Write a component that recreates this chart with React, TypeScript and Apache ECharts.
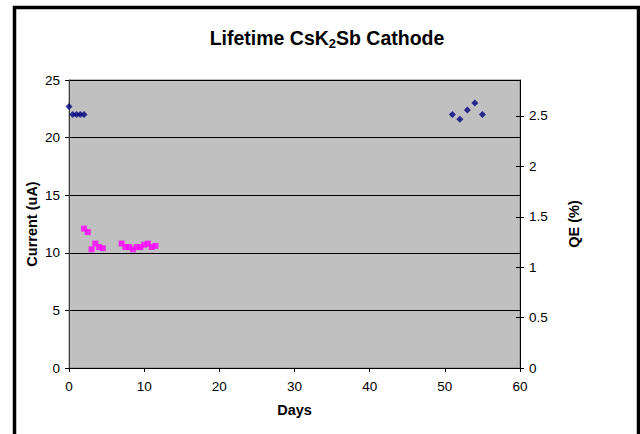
import React, { useEffect, useRef } from "react";
import * as echarts from "echarts";

const currentDays = [0, 0.5, 1, 1.5, 2, 51, 52, 53, 54, 55];
const currentValues = [22.7, 22, 22, 22, 22, 22, 21.6, 22.4, 23, 22];
const qeDays = [2, 2.5, 3, 3.5, 4, 4.5, 7, 7.5, 8, 8.5, 9, 9.5, 10, 10.5, 11, 11.5];
const qeValues = [12.1, 11.8, 10.3, 10.8, 10.5, 10.4, 10.8, 10.5, 10.5, 10.3, 10.5, 10.5, 10.7, 10.8, 10.5, 10.6];
const qeTicks = [0, 0.5, 1, 1.5, 2, 2.5];

const FONT = "'Liberation Sans', Arial, sans-serif";

export default function App() {
  const ref = useRef<HTMLDivElement>(null);
  useEffect(() => {
    if (!ref.current) return;
    const chart = echarts.init(ref.current, null, { renderer: "svg" });
    const qeTop = 2.857;
    const nameStyle = { fontFamily: FONT, fontSize: 14.5, fontWeight: "bold", color: "#000" };
    const labelStyle = { fontFamily: FONT, fontSize: 13.5, color: "#000" };
    chart.setOption({
      animation: false,
      backgroundColor: "#ffffff",
      textStyle: { fontFamily: FONT },
      title: {
        left: 322,
        top: 21,
        textAlign: "center",
        text: "{a|Lifetime CsK}{s|2}{a|Sb Cathode}",
        textStyle: {
          rich: {
            a: { fontFamily: FONT, fontSize: 19.5, fontWeight: "bold", color: "#000", lineHeight: 24 },
            s: { fontFamily: FONT, fontSize: 13, fontWeight: "bold", color: "#000", lineHeight: 14, verticalAlign: "bottom" },
          },
        },
      },
      graphic: [
        {
          type: "rect",
          shape: { x: 14.5, y: 7.5, width: 624, height: 440 },
          style: { fill: "none", stroke: "#000", lineWidth: 3.5 },
          silent: true,
        },
      ],
      grid: {
        left: 69,
        right: 120,
        top: 80,
        bottom: 66,
        show: true,
        backgroundColor: "#C0C0C0",
        borderColor: "#808080",
        borderWidth: 1,
      },
      xAxis: {
        type: "value",
        min: 0,
        max: 60,
        interval: 10,
        name: "Days",
        nameLocation: "middle",
        nameGap: 34,
        nameMoveOverlap: false,
        nameTextStyle: nameStyle,
        axisLine: { lineStyle: { color: "#000", width: 1 } },
        axisTick: { show: true, length: 4, lineStyle: { color: "#000" } },
        axisLabel: { margin: 11, ...labelStyle },
        splitLine: { show: false },
      },
      yAxis: [
        {
          type: "value",
          min: 0,
          max: 25,
          interval: 5,
          position: "left",
          name: "Current (uA)",
          nameLocation: "middle",
          nameRotate: 90,
          nameGap: 30,
          nameMoveOverlap: false,
          nameTextStyle: nameStyle,
          axisLine: { show: true, lineStyle: { color: "#404040", width: 1 } },
          axisTick: { show: true, length: 4, lineStyle: { color: "#000" } },
          axisLabel: { margin: 9, ...labelStyle },
          splitLine: { show: true, lineStyle: { color: "#000", width: 1 } },
        },
        {
          type: "value",
          min: 0,
          max: qeTop,
          position: "right",
          name: "QE (%)",
          nameLocation: "middle",
          nameRotate: 90,
          nameGap: 46,
          nameMoveOverlap: false,
          nameTextStyle: nameStyle,
          axisLine: { show: true, lineStyle: { color: "#000", width: 1 } },
          axisTick: { show: true, length: 4, customValues: qeTicks, lineStyle: { color: "#000" } },
          axisLabel: { margin: 9, customValues: qeTicks, ...labelStyle },
          splitLine: { show: false },
        },
        {
          type: "value",
          min: 0,
          max: qeTop,
          position: "right",
          axisLine: { show: false },
          axisTick: { show: true, inside: true, length: 4, customValues: qeTicks, lineStyle: { color: "#000" } },
          axisLabel: { show: false },
          splitLine: { show: false },
        },
      ],
      series: [
        {
          name: "Current",
          type: "scatter",
          yAxisIndex: 0,
          symbol: "diamond",
          symbolSize: 7,
          itemStyle: { color: "#000080" },
          data: currentDays.map((d, i) => [d, currentValues[i]]),
        },
        {
          name: "QE",
          type: "scatter",
          yAxisIndex: 0,
          symbol: "rect",
          symbolSize: 6,
          itemStyle: { color: "#FF00FF" },
          data: qeDays.map((d, i) => [d, qeValues[i]]),
        },
      ],
    });
    return () => chart.dispose();
  }, []);
  return (
    <div
      ref={ref}
      style={{ position: "fixed", left: 0, top: 0, width: 640, height: 434 }}
    />
  );
}
